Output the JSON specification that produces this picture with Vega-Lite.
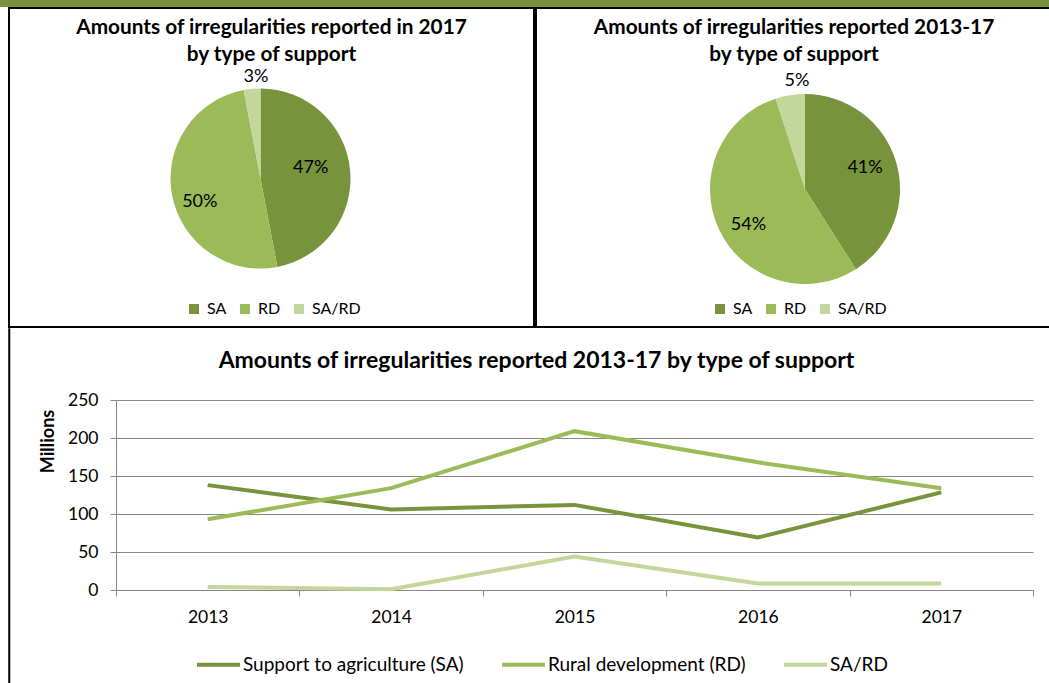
{
  "$schema": "https://vega.github.io/schema/vega-lite/v6.json",
  "background": "white",
  "padding": 0,
  "spacing": 0,
  "config": {
    "font": "Lato",
    "view": {"stroke": null},
    "concat": {"spacing": 0},
    "title": {"font": "Lato", "color": "black", "fontWeight": "bold"},
    "axis": {"labelFont": "Lato", "titleFont": "Lato", "labelColor": "black", "titleColor": "black"},
    "legend": {"labelFont": "Lato", "labelColor": "black"}
  },
  "resolve": {"scale": {"color": "independent"}, "legend": {"color": "independent"}},
  "datasets": {
    "pie2017": [
      {"type": "SA", "share": 47, "order": 1},
      {"type": "RD", "share": 50, "order": 2},
      {"type": "SA/RD", "share": 3, "order": 3}
    ],
    "pieAll": [
      {"type": "SA", "share": 41, "order": 1},
      {"type": "RD", "share": 54, "order": 2},
      {"type": "SA/RD", "share": 5, "order": 3}
    ],
    "lines": [
      {"year": "2013", "series": "Support to agriculture (SA)", "value": 138},
      {"year": "2014", "series": "Support to agriculture (SA)", "value": 106},
      {"year": "2015", "series": "Support to agriculture (SA)", "value": 112},
      {"year": "2016", "series": "Support to agriculture (SA)", "value": 69},
      {"year": "2017", "series": "Support to agriculture (SA)", "value": 128.5},
      {"year": "2013", "series": "Rural development (RD)", "value": 93},
      {"year": "2014", "series": "Rural development (RD)", "value": 134},
      {"year": "2015", "series": "Rural development (RD)", "value": 209},
      {"year": "2016", "series": "Rural development (RD)", "value": 168},
      {"year": "2017", "series": "Rural development (RD)", "value": 134},
      {"year": "2013", "series": "SA/RD", "value": 4},
      {"year": "2014", "series": "SA/RD", "value": 1},
      {"year": "2015", "series": "SA/RD", "value": 44},
      {"year": "2016", "series": "SA/RD", "value": 8.5},
      {"year": "2017", "series": "SA/RD", "value": 8.5}
    ]
  },
  "vconcat": [
    {"width": 1049, "height": 7, "data": {"values": []}, "mark": "point", "encoding": {}, "view": {"fill": "#77933C", "stroke": null}},
    {"hconcat": [
      {"width": 8, "height": 319, "data": {"values": []}, "mark": "point", "encoding": {}},
      {
        "width": 525, "height": 319,
        "view": {"stroke": "black", "strokeWidth": 2},
        "data": {"name": "pie2017"},
        "title": {"text": ["Amounts of irregularities reported in 2017", "by type of support"], "fontSize": 20.8, "lineHeight": 27, "offset": -58, "anchor": "middle"},
        "transform": [{"calculate": "datum.share + '%'", "as": "label"}],
        "encoding": {
          "theta": {"field": "share", "type": "quantitative", "stack": true},
          "order": {"field": "order", "type": "quantitative"},
          "color": {"field": "type", "type": "nominal", "scale": {"domain": ["SA", "RD", "SA/RD"], "range": ["#77933C", "#9BBB59", "#C3D69B"]},
            "legend": {"orient": "none", "legendX": 177, "legendY": 293, "direction": "horizontal", "title": null, "symbolType": "square", "symbolSize": 100, "labelFontSize": 16, "columnPadding": 10, "labelOffset": 5, "symbolStrokeWidth": 0}}
        },
        "layer": [
          {"mark": {"type": "arc", "outerRadius": 90, "xOffset": -11, "yOffset": 11}},
          {"mark": {"type": "text", "radius": 58, "thetaOffset": -0.15, "xOffset": -17, "yOffset": 15, "fontSize": 18},
           "encoding": {"color": {"value": "black"}, "text": {"condition": {"test": "datum.type !== 'SA/RD'", "field": "label", "type": "nominal"}, "value": ""}}},
          {"mark": {"type": "text", "radius": 103, "thetaOffset": 0.04, "xOffset": -10, "yOffset": 12, "fontSize": 18},
           "encoding": {"color": {"value": "black"}, "text": {"condition": {"test": "datum.type === 'SA/RD'", "field": "label", "type": "nominal"}, "value": ""}}}
        ]
      },
      {
        "width": 516, "height": 319,
        "view": {"stroke": "black", "strokeWidth": 2},
        "data": {"name": "pieAll"},
        "title": {"text": ["Amounts of irregularities reported 2013-17", "by type of support"], "fontSize": 20.8, "lineHeight": 27, "offset": -58, "anchor": "middle"},
        "transform": [{"calculate": "datum.share + '%'", "as": "label"}],
        "encoding": {
          "theta": {"field": "share", "type": "quantitative", "stack": true},
          "order": {"field": "order", "type": "quantitative"},
          "color": {"field": "type", "type": "nominal", "scale": {"domain": ["SA", "RD", "SA/RD"], "range": ["#77933C", "#9BBB59", "#C3D69B"]},
            "legend": {"orient": "none", "legendX": 176, "legendY": 293, "direction": "horizontal", "title": null, "symbolType": "square", "symbolSize": 100, "labelFontSize": 16, "columnPadding": 10, "labelOffset": 5, "symbolStrokeWidth": 0}}
        },
        "layer": [
          {"mark": {"type": "arc", "outerRadius": 95, "xOffset": 11, "yOffset": 21.5}},
          {"mark": {"type": "text", "radius": 65, "thetaOffset": -0.09, "xOffset": 10.5, "yOffset": 24.5, "fontSize": 18},
           "encoding": {"color": {"value": "black"}, "text": {"condition": {"test": "datum.type !== 'SA/RD'", "field": "label", "type": "nominal"}, "value": ""}}},
          {"mark": {"type": "text", "radius": 110, "thetaOffset": 0.07, "xOffset": 12.5, "yOffset": 23, "fontSize": 18},
           "encoding": {"color": {"value": "black"}, "text": {"condition": {"test": "datum.type === 'SA/RD'", "field": "label", "type": "nominal"}, "value": ""}}}
        ]
      }
    ], "spacing": 0, "resolve": {"scale": {"color": "independent"}, "legend": {"color": "independent"}}},
    {"hconcat": [
      {"width": 8, "height": 1, "data": {"values": []}, "mark": "point", "encoding": {}},
      {"width": 0.5, "height": 356, "data": {"values": []}, "mark": "point", "encoding": {}, "view": {"stroke": "black", "strokeWidth": 1.5}},
      {"width": 27.5, "height": 1, "data": {"values": []}, "mark": "point", "encoding": {}},
      {"vconcat": [
        {"width": 1, "height": 21, "data": {"values": []}, "mark": "point", "encoding": {}},
        {
          "width": 917, "height": 190,
          "data": {"name": "lines"},
          "title": {"text": "Amounts of irregularities reported 2013-17 by type of support", "fontSize": 23, "offset": 18, "anchor": "middle", "frame": "bounds"},
          "mark": {"type": "line", "strokeWidth": 4},
          "encoding": {
            "x": {"field": "year", "type": "ordinal", "scale": {"type": "band", "paddingInner": 0, "paddingOuter": 0},
              "axis": {"title": null, "labelAngle": 0, "tickBand": "extent", "domainColor": "#868686", "tickColor": "#868686", "tickSize": 6, "labelFontSize": 17.5, "labelPadding": 12, "grid": false}},
            "y": {"field": "value", "type": "quantitative", "scale": {"domain": [0, 250]},
              "axis": {"title": "Millions", "titleFontSize": 18, "titleFontWeight": "bold", "titleY": 41, "values": [0, 50, 100, 150, 200, 250], "grid": true, "gridColor": "#868686", "domainColor": "#868686", "tickColor": "#868686", "tickSize": 6, "labelFontSize": 17.5, "labelPadding": 12, "titlePadding": 10}},
            "color": {"field": "series", "type": "nominal",
              "scale": {"domain": ["Support to agriculture (SA)", "Rural development (RD)", "SA/RD"], "range": ["#77933C", "#9BBB59", "#C3D69B"]},
              "legend": {"orient": "none", "legendX": 79, "legendY": 241, "direction": "horizontal", "title": null, "symbolType": "stroke", "symbolSize": 1849, "symbolStrokeWidth": 4, "labelFontSize": 19, "labelLimit": 400, "labelOffset": 1, "columnPadding": 30}}
          }
        }
      ], "spacing": 0, "resolve": {"scale": {"color": "independent"}, "legend": {"color": "independent"}}}
    ], "spacing": 0, "resolve": {"scale": {"color": "independent"}, "legend": {"color": "independent"}}}
  ]
}
